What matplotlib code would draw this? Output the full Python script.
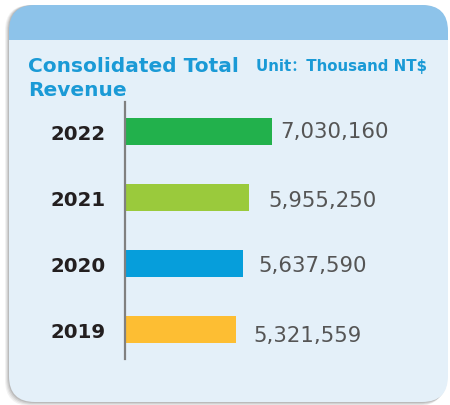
import matplotlib
matplotlib.use("Agg")
import matplotlib.pyplot as plt
from matplotlib.patches import FancyBboxPatch, Rectangle

years = ["2019", "2020", "2021", "2022"]
revenue = [5321559, 5637590, 5955250, 7030160]
value_labels = ["5,321,559", "5,637,590", "5,955,250", "7,030,160"]
bar_colors = ["#FDBE33", "#069EDB", "#9ACA3C", "#22B14C"]

title = "Consolidated Total\nRevenue"
unit = "Unit\uff1aThousand NT$"

# label nudges (points) to mimic the original layout
label_dx = [12.5, 11, 13.5, 6]
label_dy = [-4, -1, -2, 0]

fonts = ["DejaVu Sans", "Noto Sans CJK SC"]

W, H = 450, 406
fig = plt.figure(figsize=(W / 100, H / 100), dpi=100)
fig.patch.set_facecolor("white")

# background card, drawn in pixel coordinates
bg = fig.add_axes([0, 0, 1, 1])
bg.set_xlim(0, W)
bg.set_ylim(H, 0)
bg.axis("off")

x0, y0, x1, y1 = 9, 6, 448, 403
rad = 26
for k, a in enumerate([0.05, 0.06, 0.08, 0.10]):
    d = 4 - k
    sh = FancyBboxPatch((x0 - d + rad, y0 + rad), (x1 - x0) - 2 * rad, (y1 - y0 + d) - 2 * rad,
                        boxstyle="round,pad=%d" % rad, fc="black", ec="none", alpha=a)
    bg.add_patch(sh)

def card(color, top, bottom):
    p = FancyBboxPatch((x0 + rad, y0 + rad), (x1 - x0) - 2 * rad, (y1 - y0) - 2 * rad,
                       boxstyle="round,pad=%d" % rad, fc=color, ec="none")
    bg.add_patch(p)
    clip = Rectangle((0, top), W, bottom - top, transform=bg.transData)
    p.set_clip_path(clip)

card("#8DC3EA", 0, 41)
card("#E4F0F9", 41, H)

bg.text(28, 96, title, color="#1A9AD6", fontsize=14.5, fontweight="bold",
        family=fonts, va="baseline", ha="left", linespacing=1.32)
bg.text(256, 71, unit, color="#1A9AD6", fontsize=10.8, fontweight="bold",
        family=fonts, va="baseline", ha="left")

# bar chart
px = 20.9e-6  # pixels per NT$ thousand
ax_left, ax_right = 125, 425
ax_top, ax_bot = 103, 360
ax = fig.add_axes([ax_left / W, 1 - ax_bot / H, (ax_right - ax_left) / W, (ax_bot - ax_top) / H])
ax.patch.set_visible(False)
ax.set_xlim(0, (ax_right - ax_left) / px)
step = 66.0
ax.set_ylim((330.5 - ax_bot) / step, (330.5 - ax_top) / step)

pos = list(range(len(years)))
ax.barh(pos, revenue, height=27 / step, color=bar_colors)

for i in pos:
    ax.annotate(value_labels[i], (revenue[i], i), xytext=(label_dx[i], label_dy[i]),
                textcoords="offset points", va="center", ha="left",
                fontsize=15.3, color="#555555", family=fonts)

ax.set_yticks(pos)
ax.set_yticklabels(years, fontsize=14.2, fontweight="bold", color="#231F20", family=fonts)
ax.tick_params(axis="y", length=0, pad=14)
ax.set_xticks([])
for s in ["top", "right", "bottom"]:
    ax.spines[s].set_visible(False)
ax.spines["left"].set_color("#808080")
ax.spines["left"].set_linewidth(1.6)

fig.savefig("out.png", dpi=100)
